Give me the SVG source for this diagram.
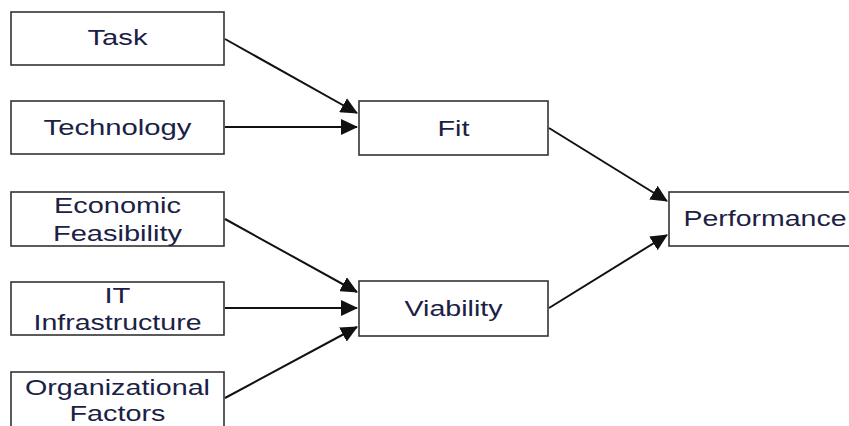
<svg xmlns="http://www.w3.org/2000/svg" width="849" height="426" viewBox="0 0 849 426">
  <style>
    .box { fill: #ffffff; stroke: #333333; stroke-width: 1.6; }
    .lbl { font-family: "Liberation Sans", Arial, sans-serif; font-size: 22px; fill: #1b2145; text-anchor: middle; }
    .edge { stroke: #111111; stroke-width: 2; fill: none; marker-end: url(#arrow); }
  </style>
  <defs>
    <marker id="arrow" markerWidth="8.5" markerHeight="8" refX="8" refY="4" orient="auto" markerUnits="strokeWidth">
      <path d="M0,0 L8.5,4 L0,8 Z" fill="#111111"/>
    </marker>
  </defs>
  <rect width="849" height="426" fill="#ffffff"/>

  <g id="connectors">
    <line class="edge" x1="225" y1="39" x2="357" y2="113"/>
    <line class="edge" x1="225" y1="127" x2="357" y2="127"/>
    <line class="edge" x1="225" y1="219" x2="357" y2="292"/>
    <line class="edge" x1="225" y1="308" x2="357" y2="308"/>
    <line class="edge" x1="225" y1="398" x2="357" y2="327"/>
    <line class="edge" x1="549" y1="128" x2="667" y2="201"/>
    <line class="edge" x1="549" y1="308" x2="667" y2="235"/>
  </g>

  <g id="task">
    <rect class="box" x="11" y="12" width="213" height="53"/>
    <text class="lbl" x="117.5" y="45" textLength="60" lengthAdjust="spacingAndGlyphs">Task</text>
  </g>
  <g id="technology">
    <rect class="box" x="11" y="101" width="213" height="53"/>
    <text class="lbl" x="117.5" y="135" textLength="148" lengthAdjust="spacingAndGlyphs">Technology</text>
  </g>
  <g id="economic-feasibility">
    <rect class="box" x="11" y="192" width="213" height="54"/>
    <text class="lbl" x="117.5" y="213" textLength="127" lengthAdjust="spacingAndGlyphs">Economic</text>
    <text class="lbl" x="117.5" y="241" textLength="129" lengthAdjust="spacingAndGlyphs">Feasibility</text>
  </g>
  <g id="it-infrastructure">
    <rect class="box" x="11" y="282" width="213" height="53"/>
    <text class="lbl" x="117.5" y="303" textLength="26" lengthAdjust="spacingAndGlyphs">IT</text>
    <text class="lbl" x="117.5" y="330" textLength="168" lengthAdjust="spacingAndGlyphs">Infrastructure</text>
  </g>
  <g id="organizational-factors">
    <rect class="box" x="11" y="372" width="213" height="70"/>
    <text class="lbl" x="117.5" y="395" textLength="185" lengthAdjust="spacingAndGlyphs">Organizational</text>
    <text class="lbl" x="117.5" y="421" textLength="96" lengthAdjust="spacingAndGlyphs">Factors</text>
  </g>
  <g id="fit">
    <rect class="box" x="359" y="101" width="189" height="54"/>
    <text class="lbl" x="453.5" y="136" textLength="32" lengthAdjust="spacingAndGlyphs">Fit</text>
  </g>
  <g id="viability">
    <rect class="box" x="359" y="281" width="189" height="55"/>
    <text class="lbl" x="453.5" y="316" textLength="98" lengthAdjust="spacingAndGlyphs">Viability</text>
  </g>
  <g id="performance">
    <rect class="box" x="669" y="192" width="200" height="54"/>
    <text class="lbl" x="765" y="226" textLength="163" lengthAdjust="spacingAndGlyphs">Performance</text>
  </g>
</svg>
